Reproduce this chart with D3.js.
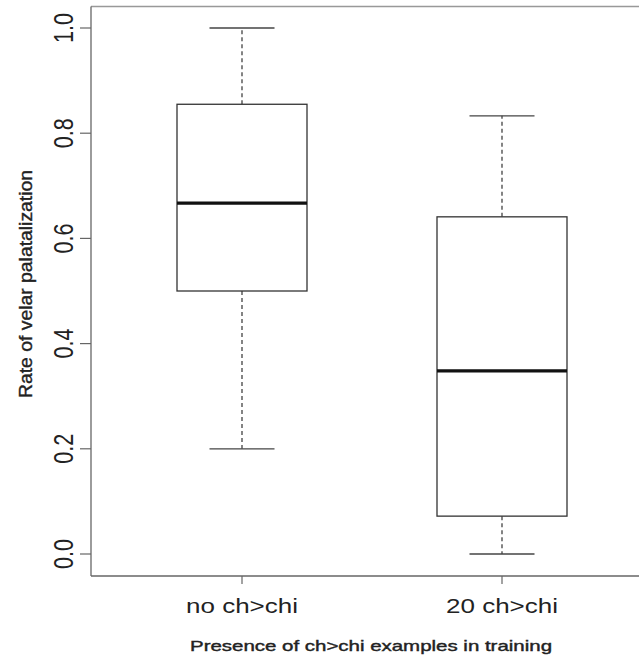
<!DOCTYPE html>
<html>
<head>
<meta charset="utf-8">
<script src="https://cdn.jsdelivr.net/npm/d3@7"></script>
<style>
  body { margin: 0; background: #fff; }
  svg { display: block; font-family: "Liberation Sans", Arial, sans-serif; }
</style>
</head>
<body>
<div id="chart"></div>
<script>
// box summary per group
const categories = ["no ch>chi", "20 ch>chi"];
const whiskerLow = [0.2, 0.0];
const q1 = [0.5, 0.072];
const medians = [0.667, 0.348];
const q3 = [0.855, 0.641];
const whiskerHigh = [1.0, 0.833];
const yTicks = [0, 0.2, 0.4, 0.6, 0.8, 1.0];

const width = 639, height = 657;
const frame = { left: 91, top: 6.5, bottom: 576, right: 650 };

const svg = d3.select("#chart").append("svg")
  .attr("width", width).attr("height", height);

const x = d3.scalePoint().domain(categories).range([242, 502]);
const y = d3.scaleLinear().domain([0, 1]).range([554, 28]);
const boxW = 130, capW = 65;

const data = categories.map((c, i) => ({
  name: c, lo: whiskerLow[i], q1: q1[i], med: medians[i], q3: q3[i], hi: whiskerHigh[i]
}));

// frame (right side runs off the picture)
svg.append("line").attr("x1", frame.left).attr("x2", frame.right)
  .attr("y1", frame.top).attr("y2", frame.top)
  .attr("stroke", "#999").attr("stroke-width", 1.6);
svg.append("line").attr("x1", frame.left).attr("x2", frame.right)
  .attr("y1", frame.bottom).attr("y2", frame.bottom)
  .attr("stroke", "#666").attr("stroke-width", 1.3);
svg.append("line").attr("x1", frame.left).attr("x2", frame.left)
  .attr("y1", frame.top).attr("y2", frame.bottom)
  .attr("stroke", "#666").attr("stroke-width", 1.3);

// y axis ticks + rotated labels
const yAxis = svg.append("g");
yAxis.selectAll("line").data(yTicks).join("line")
  .attr("x1", 80).attr("x2", frame.left)
  .attr("y1", d => y(d)).attr("y2", d => y(d))
  .attr("stroke", "#666").attr("stroke-width", 1.2);
yAxis.selectAll("text").data(yTicks).join("text")
  .attr("transform", d => `translate(73,${y(d)}) scale(1.3,1) rotate(-90)`)
  .attr("text-anchor", "middle")
  .attr("font-size", 21)
  .attr("fill", "#222")
  .attr("textLength", 30)
  .attr("lengthAdjust", "spacingAndGlyphs")
  .text(d => d.toFixed(1));

// x axis ticks + labels
const xAxis = svg.append("g");
xAxis.selectAll("line").data(categories).join("line")
  .attr("x1", d => x(d)).attr("x2", d => x(d))
  .attr("y1", frame.bottom).attr("y2", frame.bottom + 8)
  .attr("stroke", "#666").attr("stroke-width", 1.2);
xAxis.selectAll("text").data(categories).join("text")
  .attr("x", d => x(d)).attr("y", 613)
  .attr("text-anchor", "middle")
  .attr("font-size", 21)
  .attr("fill", "#222")
  .attr("textLength", 112)
  .attr("lengthAdjust", "spacingAndGlyphs")
  .text(d => d);

// axis titles
svg.append("text")
  .attr("x", 371).attr("y", 651)
  .attr("text-anchor", "middle")
  .attr("font-size", 15)
  .attr("fill", "#222").attr("stroke", "#222").attr("stroke-width", 0.4)
  .attr("textLength", 362)
  .attr("lengthAdjust", "spacingAndGlyphs")
  .text("Presence of ch>chi examples in training");

svg.append("text")
  .attr("transform", "translate(32,284) scale(1.2,1) rotate(-90)")
  .attr("text-anchor", "middle")
  .attr("font-size", 15)
  .attr("fill", "#222").attr("stroke", "#222").attr("stroke-width", 0.3)
  .attr("textLength", 228)
  .attr("lengthAdjust", "spacingAndGlyphs")
  .text("Rate of velar palatalization");

// boxes
const g = svg.append("g").selectAll("g").data(data).join("g");

// whiskers
g.append("line")
  .attr("x1", d => x(d.name)).attr("x2", d => x(d.name))
  .attr("y1", d => y(d.q3)).attr("y2", d => y(d.hi))
  .attr("stroke", "#333").attr("stroke-width", 1.2).attr("stroke-dasharray", "4,3");
g.append("line")
  .attr("x1", d => x(d.name)).attr("x2", d => x(d.name))
  .attr("y1", d => y(d.q1)).attr("y2", d => y(d.lo))
  .attr("stroke", "#333").attr("stroke-width", 1.2).attr("stroke-dasharray", "4,3");

// caps
g.append("line")
  .attr("x1", d => x(d.name) - capW / 2).attr("x2", d => x(d.name) + capW / 2)
  .attr("y1", d => y(d.hi)).attr("y2", d => y(d.hi))
  .attr("stroke", "#444").attr("stroke-width", 1.3);
g.append("line")
  .attr("x1", d => x(d.name) - capW / 2).attr("x2", d => x(d.name) + capW / 2)
  .attr("y1", d => y(d.lo)).attr("y2", d => y(d.lo))
  .attr("stroke", "#444").attr("stroke-width", 1.3);

// box
g.append("rect")
  .attr("x", d => x(d.name) - boxW / 2)
  .attr("y", d => y(d.q3))
  .attr("width", boxW)
  .attr("height", d => y(d.q1) - y(d.q3))
  .attr("fill", "#fff")
  .attr("stroke", "#333").attr("stroke-width", 1.3);

// median
g.append("line")
  .attr("x1", d => x(d.name) - boxW / 2).attr("x2", d => x(d.name) + boxW / 2)
  .attr("y1", d => y(d.med)).attr("y2", d => y(d.med))
  .attr("stroke", "#111").attr("stroke-width", 3.2);
</script>
</body>
</html>
